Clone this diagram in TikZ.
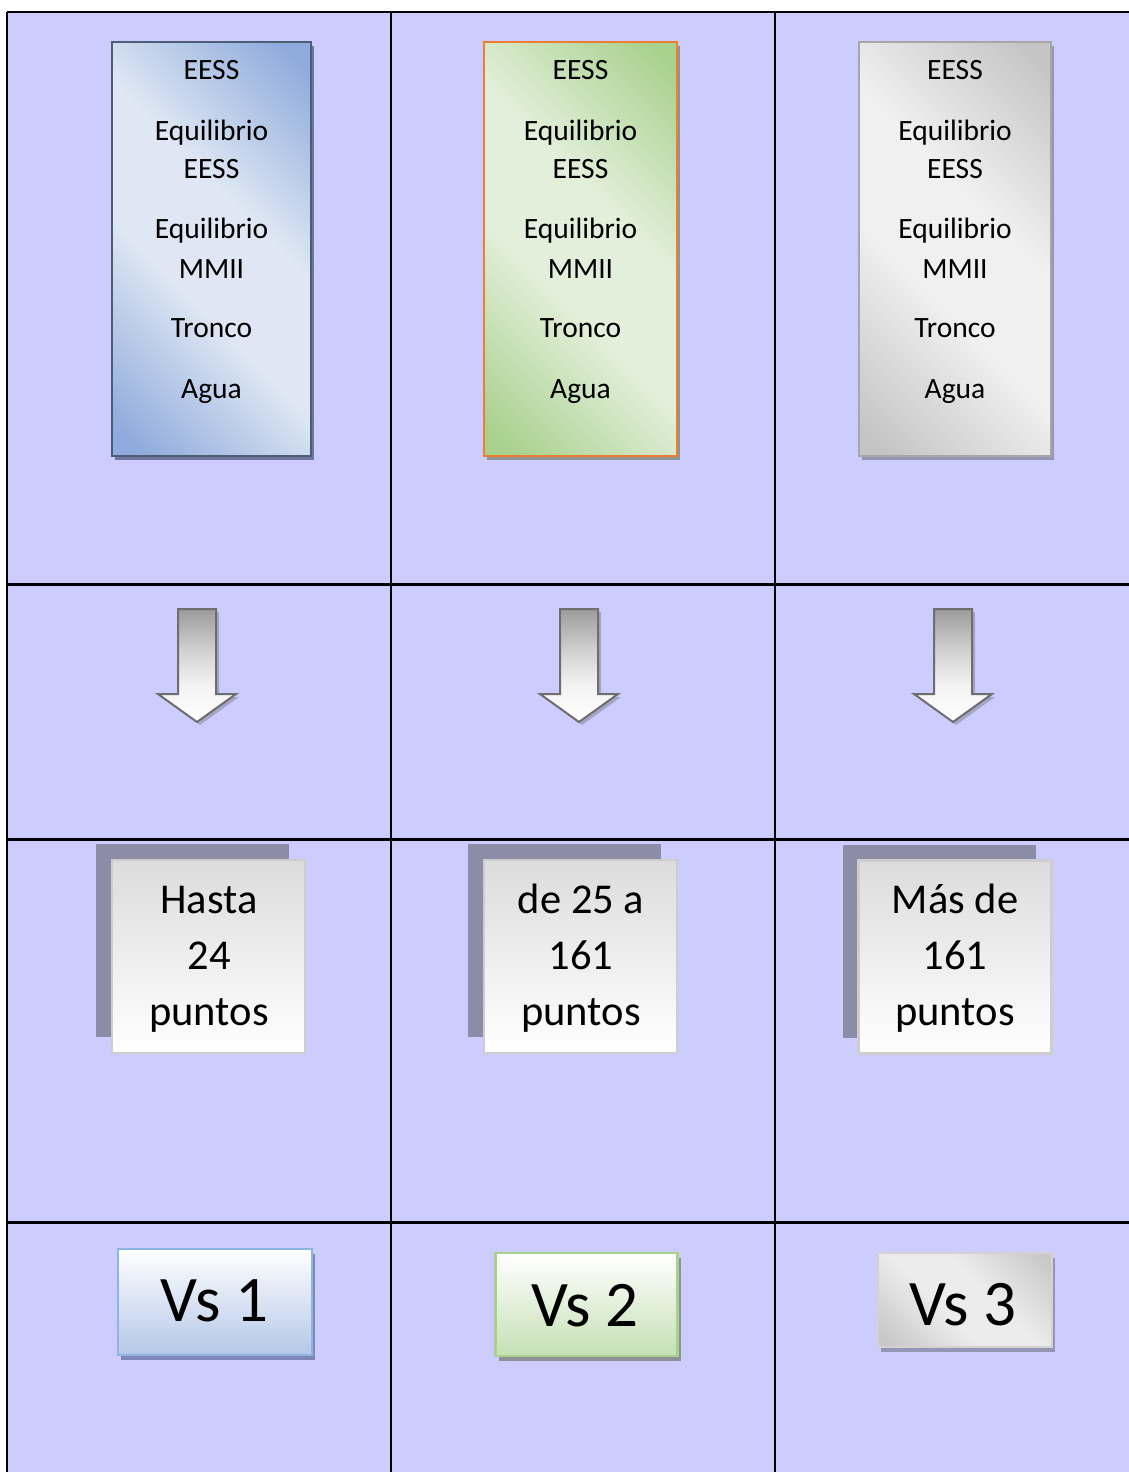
\documentclass[tikz,border=0pt]{standalone}
\usepackage{fontspec}
\setmainfont{Carlito}
\usetikzlibrary{shadows}
\definecolor{lav}{RGB}{204,204,255}
\definecolor{bdark}{RGB}{143,170,220}
\definecolor{blight}{RGB}{222,231,243}
\definecolor{bborder}{RGB}{76,94,116}
\definecolor{bshadow}{RGB}{112,118,160}
\definecolor{gdark}{RGB}{169,209,142}
\definecolor{glight}{RGB}{226,239,218}
\definecolor{gborder}{RGB}{237,125,49}
\definecolor{gshadow}{RGB}{140,148,150}
\definecolor{ydark}{RGB}{197,197,197}
\definecolor{ylight}{RGB}{240,240,240}
\definecolor{yborder}{RGB}{166,166,166}
\definecolor{yshadow}{RGB}{150,150,180}
\definecolor{sqshadow}{RGB}{140,140,166}
\definecolor{sqborder}{RGB}{205,205,205}
\definecolor{sqtop}{RGB}{220,220,220}
\definecolor{arrborder}{RGB}{110,110,110}
\definecolor{arrshadow}{RGB}{165,165,200}
\definecolor{arrtop}{RGB}{155,155,155}
\definecolor{arrmid}{RGB}{205,205,205}
\definecolor{arrlow}{RGB}{242,242,242}
\definecolor{vaborder}{RGB}{142,180,227}
\definecolor{vabottom}{RGB}{180,199,231}
\definecolor{vashadow}{RGB}{125,135,185}
\definecolor{vbborder}{RGB}{169,209,142}
\definecolor{vbbottom}{RGB}{197,224,180}
\definecolor{vbshadow}{RGB}{140,146,150}
\definecolor{vcborder}{RGB}{210,210,210}
\definecolor{vcdark}{RGB}{200,200,200}
\definecolor{vclight}{RGB}{236,236,236}
\definecolor{vcshadow}{RGB}{150,150,180}
\pgfdeclarehorizontalshading{bandblue}{100bp}{color(0bp)=(bdark); color(18bp)=(bdark); color(42bp)=(blight); color(58bp)=(blight); color(82bp)=(bdark); color(100bp)=(bdark)}
\pgfdeclarehorizontalshading{bandgreen}{100bp}{color(0bp)=(gdark); color(18bp)=(gdark); color(42bp)=(glight); color(58bp)=(glight); color(82bp)=(gdark); color(100bp)=(gdark)}
\pgfdeclarehorizontalshading{bandgray}{100bp}{color(0bp)=(ydark); color(18bp)=(ydark); color(42bp)=(ylight); color(58bp)=(ylight); color(82bp)=(ydark); color(100bp)=(ydark)}
\pgfdeclarehorizontalshading{bandvc}{100bp}{color(0bp)=(vcdark); color(18bp)=(vcdark); color(42bp)=(vclight); color(58bp)=(vclight); color(82bp)=(vcdark); color(100bp)=(vcdark)}
\pgfdeclareverticalshading{arrowsh}{100bp}{color(0bp)=(white); color(25bp)=(white); color(42bp)=(arrlow); color(58bp)=(arrmid); color(75bp)=(arrtop); color(100bp)=(arrtop)}
\begin{document}
\begin{tikzpicture}[x=1pt,y=-1pt,
  gridline/.style={line width=2.2pt,black},
  tallbox/.style={rectangle,minimum width=#1,minimum height=414pt,inner sep=0pt,line width=2.6pt},
  smalltxt/.style={anchor=base,font=\fontsize{29.5}{34}\selectfont,inner sep=0pt},
  midtxt/.style={anchor=base,font=\fontsize{42.5}{48}\selectfont,inner sep=0pt},
  bigtxt/.style={anchor=base,font=\fontsize{65}{70}\selectfont,inner sep=0pt},
  sqbox/.style={rectangle,minimum width=193pt,minimum height=193pt,inner sep=0pt,
    draw=sqborder,line width=2.4pt,top color=sqtop,bottom color=white,
    drop shadow={shadow xshift=-16pt,shadow yshift=16pt,fill=sqshadow,opacity=1}},
  vsbox/.style={rectangle,inner sep=0pt,line width=2.4pt},
  downarrow/.pic={
    \fill[arrshadow] (-16,3) -- (22,3) -- (22,88) -- (42,88) -- (3,116) -- (-36,88) -- (-16,88) -- cycle;
    \path[draw=arrborder,line width=2pt,shading=arrowsh] (-19,0) -- (19,0) -- (19,85) -- (39,85) -- (0,113) -- (-39,85) -- (-19,85) -- cycle;
  }]
\useasboundingbox (0,0) rectangle (1129,1472);
\fill[lav] (7,12) rectangle (1129,1472);
% grid
\draw[gridline] (7,12) -- (1129,12);
\draw[gridline] (7,584.5) -- (1129,584.5);
\draw[gridline] (7,839.5) -- (1129,839.5);
\draw[gridline] (7,1222.5) -- (1129,1222.5);
\draw[gridline] (7,12) -- (7,1472);
\draw[gridline] (391,12) -- (391,1472);
\draw[gridline] (775,12) -- (775,1472);
% tall boxes
\node[tallbox=199pt,draw=bborder,shading=bandblue,shading angle=45,
  drop shadow={shadow xshift=3pt,shadow yshift=-4pt,fill=bshadow,opacity=1}] (b1) at (211.5,249) {};
\node[tallbox=193pt,draw=gborder,shading=bandgreen,shading angle=45,
  drop shadow={shadow xshift=3pt,shadow yshift=-4pt,fill=gshadow,opacity=1}] (b2) at (580.5,249) {};
\node[tallbox=192pt,draw=yborder,shading=bandgray,shading angle=45,
  drop shadow={shadow xshift=3pt,shadow yshift=-4pt,fill=yshadow,opacity=1}] (b3) at (955,249) {};
\foreach \b/\x in {1/211.5,2/580.5,3/955}{
  \foreach \y/\t [count=\i] in {80/EESS,140/Equilibrio,178/EESS,238/Equilibrio,278/MMII,337/Tronco,398/Agua}{
    \node[smalltxt] (b\b t\i) at (\x,\y) {\t};
  }
}
% arrows
\pic (a1) at (197,609) {downarrow};
\pic (a2) at (579,609) {downarrow};
\pic (a3) at (953,609) {downarrow};
% square boxes
\node[sqbox] (s1) at (208.5,956.5) {};
\node[sqbox] (s2) at (580.5,956.5) {};
\node[sqbox] (s3) at (955,957) {};
\node[midtxt] (s1a) at (209,913) {Hasta};
\node[midtxt] (s1b) at (209,969) {24};
\node[midtxt] (s1c) at (209,1025) {puntos};
\node[midtxt] (s2a) at (581,913) {de 25 a};
\node[midtxt] (s2b) at (581,969) {161};
\node[midtxt] (s2c) at (581,1025) {puntos};
\node[midtxt] (s3a) at (955,913) {Más de};
\node[midtxt] (s3b) at (955,969) {161};
\node[midtxt] (s3c) at (955,1025) {puntos};
% Vs boxes
\node[vsbox,minimum width=194pt,minimum height=106pt,draw=vaborder,top color=white,bottom color=vabottom,
  drop shadow={shadow xshift=3pt,shadow yshift=-5pt,fill=vashadow,opacity=1}] (v1) at (215,1302) {};
\node[vsbox,minimum width=182pt,minimum height=103pt,draw=vbborder,top color=white,bottom color=vbbottom,
  drop shadow={shadow xshift=3pt,shadow yshift=-5pt,fill=vbshadow,opacity=1}] (v2) at (586.5,1304.5) {};
\node[vsbox,minimum width=174pt,minimum height=94pt,draw=vcborder,shading=bandvc,shading angle=45,
  drop shadow={shadow xshift=3pt,shadow yshift=-5pt,fill=vcshadow,opacity=1}] (v3) at (965,1300) {};
\node[bigtxt] (v1t) at (214.5,1321) {Vs 1};
\node[bigtxt] (v2t) at (585,1326) {Vs 2};
\node[bigtxt] (v3t) at (963,1325) {Vs 3};
\end{tikzpicture}
\end{document}
